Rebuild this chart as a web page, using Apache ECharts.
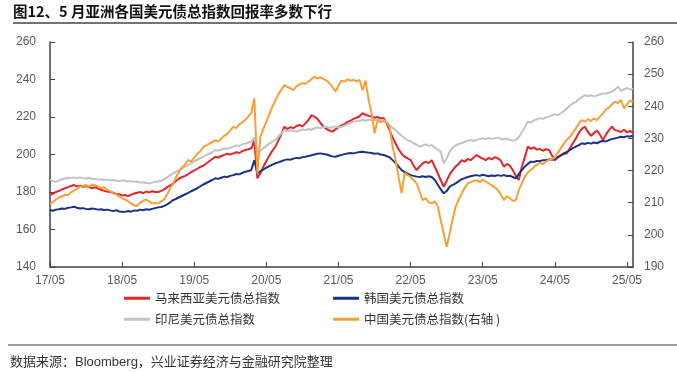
<!DOCTYPE html>
<html>
<head>
<meta charset="utf-8">
<script src="https://cdn.jsdelivr.net/npm/echarts@6/dist/echarts.min.js"></script>
<style>html,body{margin:0;padding:0;background:#fff}#c{width:677px;height:372px}</style>
</head>
<body>
<div id="c"></div>
<script>
// semi-monthly observations, May 2017 - Jun 2025
const tickLabels = ['17/05','18/05','19/05','20/05','21/05','22/05','23/05','24/05','25/05'];
const seriesNames = ['马来西亚美元债总指数','韩国美元债总指数','印尼美元债总指数','中国美元债总指数(右轴 )'];

const malaysia = [
178.4,179.2,180.0,180.6,181.4,182.0,182.6,183.2,183.7,183.0,
183.4,182.8,183.2,182.6,182.0,182.5,181.8,181.2,180.6,180.2,
180.0,179.6,179.0,178.8,178.2,178.4,177.8,178.6,179.2,179.6,
180.0,179.4,180.2,179.8,180.4,180.0,180.0,180.6,181.4,182.6,
183.6,184.5,186.0,187.2,188.0,188.6,189.6,190.6,191.5,192.4,
193.4,194.0,195.2,196.4,197.6,198.8,198.4,199.2,199.8,200.4,
200.0,200.6,201.2,200.8,201.8,202.4,202.8,203.3,207.7,187.3,
190.0,193.5,196.5,199.4,202.0,204.2,207.5,211.0,214.8,213.6,
214.6,214.0,215.2,215.8,215.0,216.6,218.4,221.0,220.2,219.0,
216.8,214.8,213.6,212.8,212.2,213.4,214.6,215.6,216.2,217.4,
218.0,219.0,219.6,220.4,222.0,221.2,220.6,220.3,219.6,220.0,
219.2,219.5,216.8,213.0,209.0,205.9,202.8,200.4,198.8,198.0,
197.0,194.0,191.7,193.6,195.3,196.2,195.4,197.0,193.6,190.0,
186.4,182.8,186.0,189.4,191.7,193.6,195.0,197.0,196.2,197.6,
197.0,198.4,199.7,198.6,197.8,197.0,198.2,197.4,198.6,198.0,
196.8,193.5,195.0,194.0,191.7,188.6,186.4,193.5,198.6,204.2,
203.0,203.8,202.6,203.0,202.0,202.8,202.5,199.6,197.0,198.4,
199.6,200.2,200.6,203.4,206.0,208.6,211.6,213.8,214.8,212.0,
210.0,211.4,212.8,210.6,207.7,210.6,213.0,214.8,213.0,212.6,
212.0,213.2,211.8,212.6,211.5
];

const korea = [
170.4,170.0,170.6,170.8,171.2,171.0,171.6,171.8,172.1,171.6,
171.2,171.4,171.0,170.8,171.2,171.0,170.6,170.8,170.4,170.6,
170.2,169.8,170.3,169.6,169.5,169.4,169.9,169.5,170.2,170.0,
170.6,170.3,170.8,170.5,171.0,171.4,171.8,172.0,172.6,173.4,
174.5,175.7,176.4,177.2,178.0,178.8,179.5,180.4,181.2,182.0,
183.0,184.0,184.8,185.6,186.4,187.3,187.0,187.6,188.2,188.0,
188.6,189.0,189.6,189.4,190.2,190.8,191.2,191.7,197.0,190.0,
191.0,192.0,193.0,193.8,194.6,195.3,195.8,196.4,197.0,197.4,
197.2,197.8,198.2,198.0,198.6,198.8,199.2,199.6,200.0,200.4,
200.6,200.3,200.0,199.5,199.0,198.8,199.3,199.8,200.2,200.5,
200.8,200.6,201.0,201.3,201.5,201.2,201.0,200.8,200.4,200.6,
200.0,199.7,199.2,198.5,197.0,195.5,193.5,191.7,190.6,189.8,
189.0,188.6,188.2,188.0,188.4,188.0,188.4,188.0,186.5,184.0,
181.5,179.3,180.5,182.8,183.8,184.6,185.8,186.8,187.4,188.0,
188.4,188.8,189.0,188.6,189.2,188.8,188.4,188.8,188.5,189.0,
188.6,189.0,188.5,188.7,188.0,187.3,189.5,191.7,193.5,195.0,
196.2,196.0,196.6,196.4,197.0,197.0,197.4,197.2,197.5,198.6,
199.6,200.6,201.4,202.4,203.4,204.2,205.0,206.0,205.6,206.2,
205.8,206.4,206.0,206.8,207.2,207.0,207.7,208.2,208.6,209.0,
209.5,209.2,209.8,209.6,210.0
];

const indonesia = [
186.5,185.8,185.5,186.2,186.8,187.2,187.6,187.4,187.8,187.5,
187.8,187.4,187.2,187.6,187.0,187.0,186.6,186.8,186.4,186.6,
186.2,186.4,186.0,185.8,186.2,186.0,185.6,185.8,185.4,185.6,
185.0,185.2,184.8,184.6,185.0,185.4,185.6,186.0,186.8,187.8,
189.0,190.0,190.8,191.8,192.8,193.6,194.4,195.3,196.4,197.2,
198.0,198.8,199.7,200.4,201.2,202.4,202.0,202.6,203.2,203.0,
203.6,204.2,204.8,204.6,205.4,205.8,206.4,206.9,209.0,201.5,
202.0,203.3,204.6,205.8,206.8,207.7,209.6,211.4,213.0,212.4,
212.8,212.5,212.2,212.8,213.4,213.0,213.6,213.2,214.0,214.4,
214.0,214.6,214.8,214.2,214.6,215.0,214.4,214.8,215.4,216.2,
216.8,217.5,217.8,218.0,218.4,218.0,218.6,218.2,218.4,218.8,
218.2,218.4,217.4,215.8,214.2,213.0,211.4,210.0,208.8,207.7,
207.0,206.0,205.2,204.2,204.8,205.4,204.6,205.0,203.8,202.6,
201.5,195.3,198.0,201.5,203.6,204.8,205.6,206.0,206.8,207.4,
207.7,207.2,207.8,208.2,208.6,208.2,208.8,208.4,208.6,209.0,
208.4,208.0,208.4,207.8,207.4,207.7,209.2,211.8,214.6,217.5,
217.0,218.2,218.8,219.4,219.0,219.8,220.2,220.8,221.4,221.0,
222.0,223.2,224.6,226.0,227.3,228.0,229.4,230.6,231.7,231.2,
231.6,231.0,231.4,232.0,232.6,232.4,233.0,233.5,234.6,236.2,
234.0,234.8,235.4,234.6,235.0
];

const china = [
209.5,210.2,211.0,211.6,212.0,212.4,212.4,213.2,213.8,214.4,
215.0,215.2,215.5,215.0,215.6,215.5,215.0,214.6,214.8,214.0,
213.6,213.0,212.6,212.0,211.4,211.0,210.4,209.8,209.2,209.0,
210.0,210.6,211.0,210.4,209.8,209.8,209.8,210.4,211.0,212.6,
214.4,216.0,218.0,219.8,221.0,222.0,223.3,222.8,224.0,225.2,
226.0,227.4,227.8,228.4,228.8,229.5,229.0,230.0,230.8,231.4,
232.6,233.6,233.2,234.4,235.0,235.8,236.8,238.0,242.5,219.0,
230.5,233.0,235.2,237.6,239.9,241.8,243.8,245.2,246.6,246.0,
245.6,245.0,246.2,246.8,247.2,247.0,247.7,248.4,249.2,248.6,
249.0,248.5,248.0,247.2,246.0,244.6,246.4,248.0,247.6,248.4,
248.0,248.2,247.8,248.2,245.0,248.0,242.0,237.8,231.6,235.7,
235.0,235.4,235.0,233.6,227.4,223.3,218.0,212.9,219.2,218.6,
218.0,217.0,216.0,213.4,210.8,211.4,210.2,209.8,210.4,209.0,
204.6,200.5,196.3,200.5,205.0,208.8,211.0,212.9,214.6,216.0,
216.4,216.8,217.0,216.4,217.2,216.6,216.0,215.4,214.8,214.0,
212.6,210.8,212.0,211.4,210.6,210.8,213.9,216.0,218.1,219.4,
220.2,221.0,221.8,222.4,222.0,222.8,223.3,223.6,224.0,225.6,
227.0,228.4,229.6,230.5,231.8,233.2,234.6,235.7,235.2,236.0,
235.4,236.2,235.7,236.8,237.8,239.0,239.6,240.6,241.4,241.0,
242.0,239.3,240.6,241.8,241.4
];

// categories: semi-monthly dates starting 2017-05-01
const categories = [];
for (let i = 0; i < malaysia.length; i++) {
  const m = 4 + Math.floor(i / 2);
  const y = 2017 + Math.floor(m / 12);
  const mm = String(m % 12 + 1).padStart(2, '0');
  categories.push(y + '-' + mm + (i % 2 ? '-16' : '-01'));
}

const colors = ['#E2262B', '#1B3187', '#C3C3C3', '#F7A03A'];
const axisColor = '#404040';
const labelColor = '#595959';
const cjk = 'Noto Sans CJK SC';
const latin = 'Liberation Sans';

const chart = echarts.init(document.getElementById('c'), null, {renderer: 'canvas'});

function legendAt(name, left, top) {
  return {
    data: [name], left: left, top: top, padding: 0, icon: 'rect',
    itemWidth: 26, itemHeight: 3,
    textStyle: {fontSize: 12.5, color: '#333', fontFamily: cjk}
  };
}

chart.setOption({
  animation: false,
  backgroundColor: '#fff',
  color: colors,
  title: {
    text: '图12、5 月亚洲各国美元债总指数回报率多数下行',
    left: 13, top: 4, padding: 0,
    textStyle: {fontSize: 14.5, fontWeight: 'bold', color: '#111', fontFamily: cjk}
  },
  graphic: [
    {type: 'line', shape: {x1: 13, y1: 23, x2: 677, y2: 23}, style: {stroke: '#444', lineWidth: 1.5}},
    {type: 'line', shape: {x1: 8, y1: 345, x2: 677, y2: 345}, style: {stroke: '#444', lineWidth: 1.2}},
    {type: 'text', left: 10, top: 356, style: {text: '数据来源：Bloomberg，兴业证券经济与金融研究院整理', fontSize: 13, fill: '#333', fontFamily: latin + ',' + cjk}}
  ],
  legend: [
    legendAt(seriesNames[0], 124, 292),
    legendAt(seriesNames[1], 333, 292),
    legendAt(seriesNames[2], 124, 313),
    legendAt(seriesNames[3], 333, 313)
  ],
  grid: {left: 50, right: 44, top: 42, bottom: 105, containLabel: false},
  xAxis: {
    type: 'category',
    data: categories,
    boundaryGap: false,
    axisLine: {lineStyle: {color: axisColor, width: 1.5}},
    axisTick: {show: true, inside: true, length: 5, interval: 23, lineStyle: {color: axisColor}},
    axisLabel: {
      interval: 23, margin: 8, fontSize: 12, color: labelColor, fontFamily: latin,
      formatter: function (v, idx) { return idx % 24 === 0 ? (tickLabels[idx / 24] || '') : ''; }
    },
    splitLine: {show: false}
  },
  yAxis: [
    {
      type: 'value', min: 140, max: 260, interval: 20, position: 'left',
      axisLine: {show: true, lineStyle: {color: axisColor, width: 1.5}},
      axisTick: {show: true, inside: true, length: 5, lineStyle: {color: axisColor}},
      axisLabel: {margin: 14, fontSize: 12, color: labelColor, fontFamily: latin},
      splitLine: {show: false}
    },
    {
      type: 'value', min: 190, max: 260, interval: 10, position: 'right',
      axisLine: {show: true, lineStyle: {color: axisColor, width: 1.5}},
      axisTick: {show: true, inside: true, length: 5, lineStyle: {color: axisColor}},
      axisLabel: {margin: 11, fontSize: 12, color: labelColor, fontFamily: latin},
      splitLine: {show: false}
    }
  ],
  series: [
    {name: seriesNames[0], type: 'line', data: malaysia, yAxisIndex: 0, symbol: 'none', lineStyle: {width: 2}},
    {name: seriesNames[1], type: 'line', data: korea, yAxisIndex: 0, symbol: 'none', lineStyle: {width: 2}},
    {name: seriesNames[2], type: 'line', data: indonesia, yAxisIndex: 0, symbol: 'none', lineStyle: {width: 2}},
    {name: seriesNames[3], type: 'line', data: china, yAxisIndex: 1, symbol: 'none', lineStyle: {width: 2}}
  ]
});
</script>
</body>
</html>
